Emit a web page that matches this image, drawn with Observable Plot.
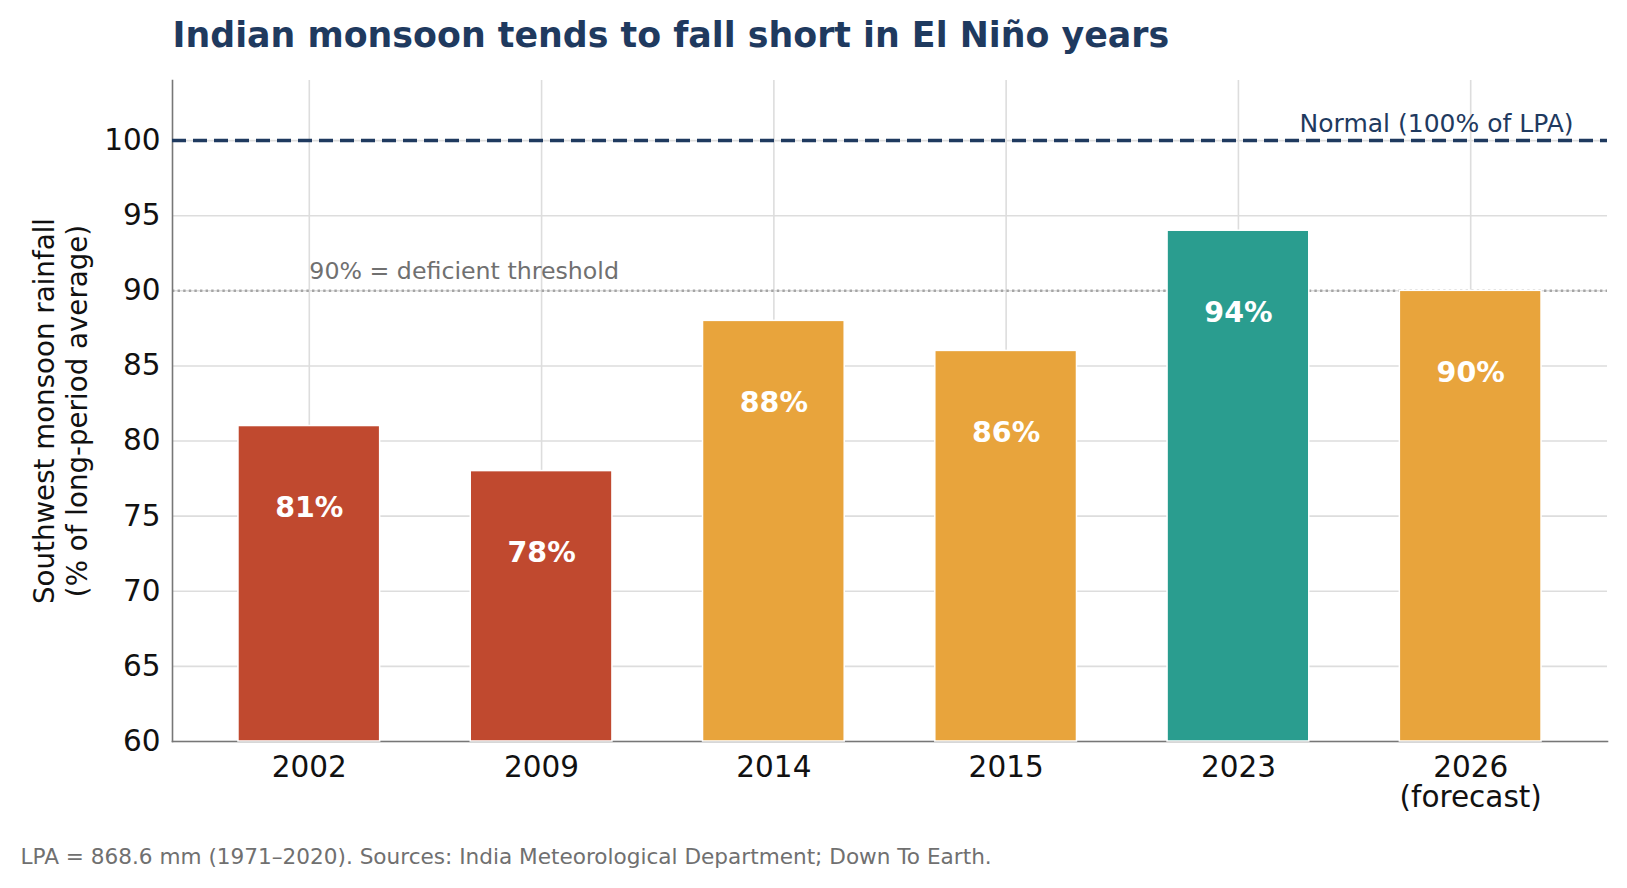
<!DOCTYPE html>
<html>
<head>
<meta charset="utf-8">
<script src="https://cdn.jsdelivr.net/npm/d3@7"></script>
<script src="https://cdn.jsdelivr.net/npm/@observablehq/plot@0.6"></script>
<style>
  html, body { margin: 0; padding: 0; background: #ffffff; }
  #chart svg { display: block; }
</style>
</head>
<body>
<div id="chart"></div>
<script>
// ---- Data ----
const years = ["2002", "2009", "2014", "2015", "2023", "2026"];
const tickLabels = ["2002", "2009", "2014", "2015", "2023", "2026\n(forecast)"];
const rainfall = [81, 78, 88, 86, 94, 90];
const category = ["severe", "severe", "deficient", "deficient", "near", "deficient"];
const categoryOrder = ["severe", "deficient", "near"];
const yTicks = [60, 65, 70, 75, 80, 85, 90, 95, 100];
const yDomain = [60, 104];
const normalLevel = 100;
const deficientLevel = 90;

const title = "Indian monsoon tends to fall short in El Niño years";
const caption = "LPA = 868.6 mm (1971–2020). Sources: India Meteorological Department; Down To Earth.";
const yLabel = "Southwest monsoon rainfall\n(% of long-period average)";
const normalLabel = "Normal (100% of LPA)";
const deficientLabel = "90% = deficient threshold";

// ---- Derived table ----
const data = years.map((year, i) => ({year, value: rainfall[i], category: category[i], label: rainfall[i] + "%"}));
const labelOf = new Map(years.map((y, i) => [y, tickLabels[i]]));

const navy = "#1f3a5f";
const font = "DejaVu Sans";

const chart = Plot.plot({
  width: 1627,
  height: 888,
  marginTop: 80,
  marginBottom: 147,
  marginLeft: 172,
  marginRight: 20,
  style: {fontFamily: font, background: "#ffffff", overflow: "visible", color: "#111"},
  x: {type: "band", domain: years, paddingInner: 0.39, paddingOuter: 0.284, align: 0.5, round: false, axis: null},
  y: {domain: yDomain, axis: null},
  color: {type: "ordinal", domain: categoryOrder, range: ["#C0492F", "#E8A43C", "#2A9D8F"]},
  marks: [
    Plot.gridY(yTicks, {stroke: "#dddddd", strokeOpacity: 1, strokeWidth: 1.6}),
    Plot.gridX(years, {stroke: "#dddddd", strokeOpacity: 1, strokeWidth: 1.6}),
    Plot.ruleY([deficientLevel], {stroke: "#a5a5a5", strokeWidth: 2.4, strokeDasharray: "2.4,3.2"}),
    Plot.frame({anchor: "left", stroke: "#777777", strokeWidth: 1.6}),
    Plot.frame({anchor: "bottom", stroke: "#777777", strokeWidth: 1.6}),
    Plot.barY(data, {x: "year", y1: yDomain[0], y2: "value", fill: "category", stroke: "#ffffff", strokeWidth: 1.5}),
    Plot.ruleY([normalLevel], {stroke: navy, strokeWidth: 3.5, strokeDasharray: "14,7"}),
    Plot.text(data, {x: "year", y: "value", text: "label", dy: 82, fill: "#ffffff", fontWeight: "bold", fontSize: 28.5, lineAnchor: "middle"}),
    Plot.text([{x: years[0], y: deficientLevel, t: deficientLabel}], {x: "x", y: "y", text: "t", textAnchor: "start", lineAnchor: "bottom", dy: -12.3, fontSize: 23.7, fill: "#707070"}),
    Plot.text([{y: normalLevel, t: normalLabel}], {y: "y", text: "t", frameAnchor: "right", textAnchor: "end", lineAnchor: "bottom", dx: -34, dy: -8.3, fontSize: 25, fill: navy}),
    Plot.axisY(yTicks, {tickSize: 0, tickPadding: 12, fontSize: 29.5, fill: "#111", label: null}),
    Plot.axisX({tickSize: 0, tickPadding: 13, tickFormat: d => labelOf.get(d), fontSize: 29.5, lineHeight: 1.05, fill: "#111", label: null}),
    Plot.text([yLabel], {frameAnchor: "left", rotate: -90, dx: -113, fontSize: 27.7, lineHeight: 1.2, textAnchor: "middle", lineAnchor: "middle", fill: "#111"}),
    Plot.text([title], {frameAnchor: "top-left", dy: -33.3, textAnchor: "start", lineAnchor: "bottom", fontSize: 34.8, fontWeight: "bold", fill: navy}),
    Plot.text([caption], {frameAnchor: "bottom-left", dx: -152, dy: 122.7, textAnchor: "start", lineAnchor: "bottom", fontSize: 21.6, fill: "#707070"})
  ]
});
document.getElementById("chart").appendChild(chart);
</script>
</body>
</html>
